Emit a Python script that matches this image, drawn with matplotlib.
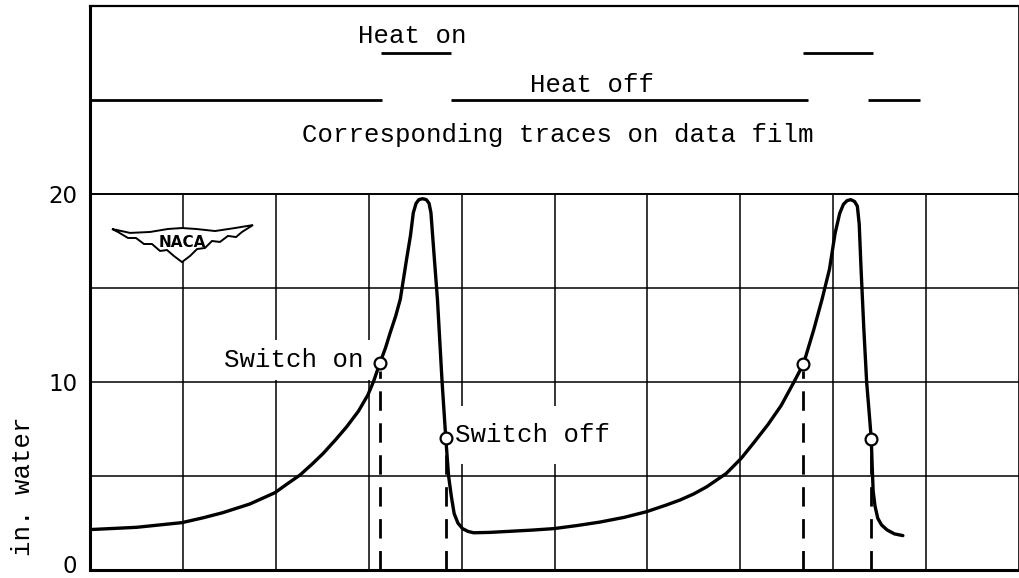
import matplotlib.pyplot as plt
import matplotlib.transforms as mtransforms
from matplotlib.patches import Polygon

# curva de presion (tiempo arbitrario, in. water)
tiempo = [0.00, 0.50, 0.99, 1.22, 1.43, 1.72, 1.99, 2.12, 2.26, 2.39, 2.51, 2.64,
          2.76, 2.89, 2.99, 3.05, 3.12, 3.18, 3.23, 3.29, 3.34, 3.41, 3.45, 3.48,
          3.51, 3.54, 3.58, 3.62, 3.65, 3.67, 3.70, 3.74, 3.79, 3.83, 3.86, 3.89,
          3.92, 3.96, 4.01, 4.07, 4.13, 4.30, 4.49, 4.75, 4.99, 5.25, 5.49, 5.75,
          5.99, 6.20, 6.35, 6.50, 6.64, 6.85, 7.01, 7.15, 7.30, 7.44, 7.57, 7.68,
          7.79, 7.88, 7.96, 8.02, 8.07, 8.11, 8.15, 8.19, 8.23, 8.26, 8.28, 8.30,
          8.33, 8.36, 8.39, 8.41, 8.42, 8.43, 8.45, 8.48, 8.52, 8.58, 8.66, 8.75]
presion = [2.15, 2.27, 2.52, 2.78, 3.05, 3.51, 4.11, 4.57, 5.05, 5.63, 6.20, 6.91,
           7.60, 8.45, 9.30, 10.0, 11.0, 11.8, 12.6, 13.5, 14.4, 16.6, 17.8, 19.0,
           19.5, 19.7, 19.75, 19.7, 19.5, 19.0, 17.0, 14.4, 10.0, 7.0, 5.0, 3.9,
           3.0, 2.5, 2.2, 2.05, 1.98, 2.0, 2.05, 2.12, 2.2, 2.37, 2.55, 2.8,
           3.10, 3.45, 3.72, 4.05, 4.43, 5.14, 5.94, 6.8, 7.75, 8.75, 9.93, 10.96,
           12.77, 14.4, 16.0, 17.9, 18.97, 19.45, 19.65, 19.7, 19.6, 19.35, 18.4, 16.0,
           12.8, 10.0, 8.2, 6.95, 5.5, 4.2, 3.4, 2.75, 2.4, 2.13, 1.92, 1.83]

# puntos de conmutacion (on, off, on, off)
switch_x = [3.12, 3.83, 7.68, 8.41]
switch_y = [11.0, 7.0, 10.96, 6.95]

# trazas de la pelicula de datos
heat_on_ini = [3.13, 7.675]
heat_on_fin = [3.886, 8.43]
heat_off_ini = [0.0, 3.89, 8.375]
heat_off_fin = [3.14, 7.73, 8.93]
nivel_on = 27.5
nivel_off = 25.0

yticks = [0, 10, 20]
ytick_labels = ['0', '10', '20']

mono = 'Liberation Mono'

fig = plt.figure(figsize=(10.2, 5.78), dpi=100)
ax = fig.add_axes([90/1020, 8/578, 929/1020, 564/578])
ax.set_xlim(0, 10)
ax.set_ylim(0, 30)

# cuadricula
ax.vlines(range(1, 10), 0, 20, color='k', lw=1.1, zorder=1)
ax.hlines([5, 10, 15], 0, 10, color='k', lw=1.1, zorder=1)
ax.hlines(20, 0, 10, color='k', lw=1.4, zorder=1)

# curva
ax.plot(tiempo, presion, color='k', lw=2.4, solid_capstyle='round',
        solid_joinstyle='round', zorder=4)

# lineas discontinuas bajo los switches
for sx, sy in zip(switch_x, switch_y):
    ax.plot([sx, sx], [0, sy - 0.4], color='k', lw=2, dashes=(7, 4.5), zorder=3)
ax.plot(switch_x, switch_y, 'o', ms=8.5, mfc='white', mec='k', mew=1.6, zorder=5)

# trazas heat on / heat off
ax.hlines([nivel_on] * len(heat_on_ini), heat_on_ini, heat_on_fin, color='k', lw=2, zorder=3)
ax.hlines([nivel_off] * len(heat_off_ini), heat_off_ini, heat_off_fin, color='k', lw=2, zorder=3)

fs = 18.5
ax.text(3.47, 28.03, 'Heat on', family=mono, fontsize=fs, ha='center', va='baseline')
ax.text(5.40, 25.43, 'Heat off', family=mono, fontsize=fs, ha='center', va='baseline')
ax.text(5.04, 22.77, 'Corresponding traces on data film', family=mono, fontsize=fs,
        ha='center', va='baseline')
ax.text(2.94, 10.8, 'Switch on', family=mono, fontsize=fs, ha='right', va='baseline',
        zorder=2, bbox=dict(facecolor='white', edgecolor='none', pad=6))
ax.text(3.93, 6.81, 'Switch off', family=mono, fontsize=fs, ha='left', va='baseline',
        zorder=2, bbox=dict(facecolor='white', edgecolor='none', pad=12))
ax.text(-0.72, 4.47, 'in. water', family=mono, fontsize=fs, rotation=90,
        ha='center', va='center', clip_on=False)

# logo NACA
ala = [(0.237, 18.14), (0.431, 17.93), (0.646, 17.98), (0.840, 18.14), (0.990, 18.19),
       (1.141, 18.14), (1.346, 18.03), (1.561, 18.19), (1.755, 18.35), (1.636, 17.98),
       (1.572, 17.71), (1.485, 17.77), (1.399, 17.45), (1.313, 17.50), (1.238, 17.13),
       (1.152, 17.07), (1.076, 16.70), (0.990, 16.38), (0.904, 16.70), (0.829, 17.02),
       (0.754, 16.97), (0.667, 17.34), (0.581, 17.34), (0.495, 17.66), (0.409, 17.66),
       (0.301, 17.98)]
ax.add_patch(Polygon(ala, closed=True, facecolor='white', edgecolor='k', lw=1.4, zorder=2))
ax.text(0.995, 17.4, 'NACA', fontsize=11, fontweight='bold', ha='center', va='center',
        zorder=3)

# ejes
ax.set_xticks([])
ax.set_yticks(yticks)
ax.set_yticklabels(ytick_labels, fontsize=16.5)
ax.tick_params(axis='y', length=0, pad=9)
# el "0" sube un poco para que no se corte
lab0 = ax.get_yticklabels()[0]
lab0.set_transform(lab0.get_transform() +
                   mtransforms.ScaledTranslation(0, 4/72, fig.dpi_scale_trans))
ax.spines['left'].set_linewidth(2.2)
ax.spines['bottom'].set_linewidth(2.2)
ax.spines['top'].set_linewidth(1.6)
ax.spines['right'].set_linewidth(1.2)

plt.savefig('out.png', dpi=100)
